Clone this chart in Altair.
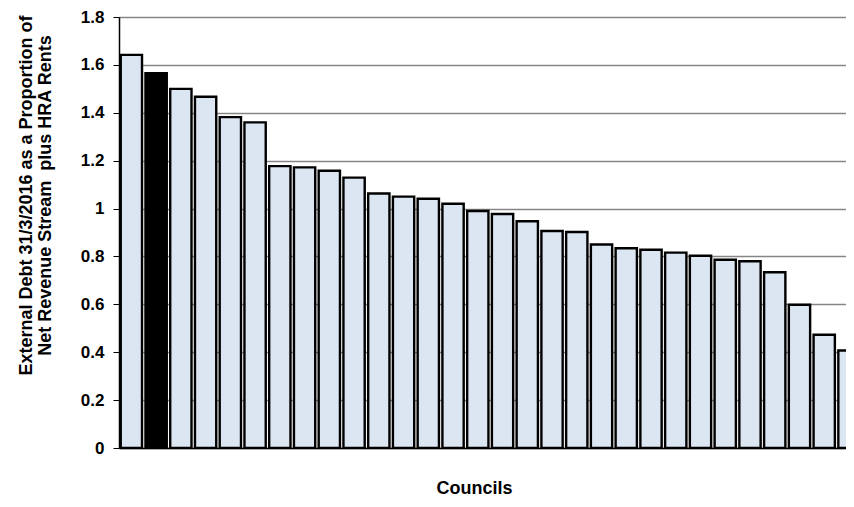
import altair as alt
import pandas as pd

councils = [f"Council {i+1}" for i in range(30)]
values = [1.642, 1.565, 1.500, 1.467, 1.382, 1.360, 1.177, 1.172, 1.158, 1.129,
          1.063, 1.050, 1.041, 1.020, 0.990, 0.977, 0.947, 0.906, 0.902, 0.850,
          0.834, 0.828, 0.816, 0.803, 0.786, 0.780, 0.734, 0.598, 0.473, 0.407]
highlight = [i == 1 for i in range(30)]

df = pd.DataFrame({
    "council": councils,
    "idx": list(range(30)),
    "value": values,
    "highlight": highlight,
})
df["x0"] = df["idx"] - 0.43
df["x1"] = df["idx"] + 0.43

bars = alt.Chart(df).mark_bar(clip=True, stroke="black", strokeWidth=2.4).encode(
    x=alt.X("x0:Q", scale=alt.Scale(domain=[-0.5, 28.88], nice=False, zero=False),
            axis=alt.Axis(title="Councils", labels=False, ticks=False, grid=False,
                          domainColor="black", domainWidth=1.5,
                          titleFont="Liberation Sans", titleFontSize=18,
                          titleFontWeight="bold", titleColor="black",
                          titleX=355, titleY=45, titleBaseline="alphabetic")),
    x2="x1:Q",
    y=alt.Y("value:Q", scale=alt.Scale(domain=[0, 1.8], nice=False),
            axis=alt.Axis(title=["External Debt 31/3/2016 as a Proportion of",
                                 "Net Revenue Stream \u00a0plus HRA Rents"],
                          values=[0, 0.2, 0.4, 0.6, 0.8, 1.0, 1.2, 1.4, 1.6, 1.8],
                          format="~g", grid=True, gridColor="#868686", gridWidth=1.3,
                          domainColor="black", domainWidth=1.5,
                          tickColor="black", tickSize=6, tickWidth=1,
                          labelFont="Liberation Sans", labelFontSize=17,
                          labelFontWeight="bold", labelColor="black", labelPadding=9,
                          titleFont="Liberation Sans", titleFontSize=18,
                          titleFontWeight="bold", titleColor="black",
                          titleX=-102, titleY=178, titleBaseline="top",
                          titleLineHeight=19)),
    y2=alt.datum(0),
    fill=alt.condition(alt.datum.highlight, alt.value("black"), alt.value("#DCE6F2")),
    tooltip=["council", "value"],
)

chart = bars.properties(
    width=727, height=431,
    autosize=alt.AutoSizeParams(type="none"),
    padding={"left": 111, "top": 9, "right": 0, "bottom": 51},
).configure_view(stroke=None).configure(background="white")

chart.save("out.html", embed_options={"renderer": "svg", "actions": False})
